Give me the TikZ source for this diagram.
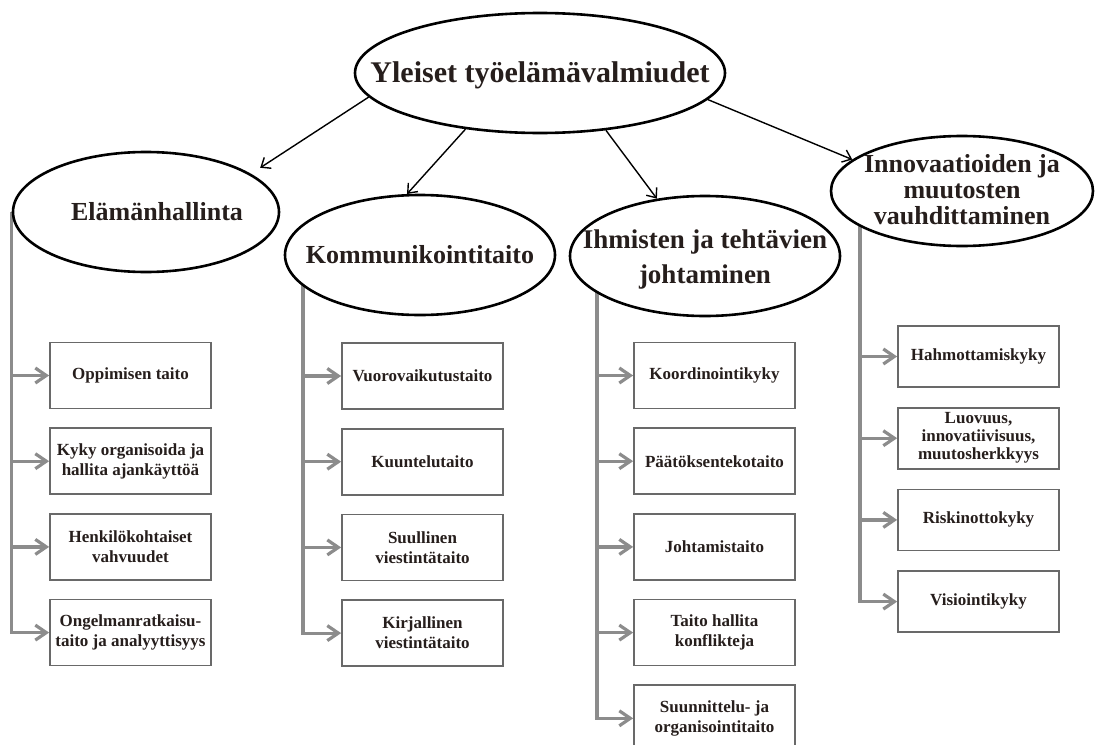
\documentclass[tikz,border=0pt]{standalone}
\usepackage{fontspec}
\setmainfont{Liberation Serif}
\usetikzlibrary{arrows.meta,shapes.geometric,positioning,backgrounds}

\definecolor{inkbrown}{RGB}{38,30,28}
\definecolor{twiggray}{RGB}{140,140,140}
\definecolor{boxgray}{RGB}{105,105,105}

\newcommand{\ovaltext}[1]{\makebox[0pt]{\smash{\raisebox{-9pt}{\begin{tabular}{@{}c@{}}#1\end{tabular}}}}}

\begin{document}
\begin{tikzpicture}[x=1pt,y=-1pt,text=inkbrown,node distance=18pt,
    oval/.style={ellipse,draw=black,line width=2.6pt,fill=white,inner sep=0pt,
                 font=\fontsize{26}{28}\selectfont\bfseries},
    skill/.style={rectangle,draw=boxgray,line width=1.7pt,fill=white,
                  minimum width=161pt,minimum height=66pt,align=center,
                  inner sep=1pt,font=\fontsize{17}{20}\selectfont\bfseries},
    link/.style={-{Straight Barb[length=8pt,width=13pt]},line width=1.4pt,black},
    twig/.style={-{Straight Barb[length=11pt,width=15pt]},twiggray,line width=3.2pt}]

  \useasboundingbox (0,0) rectangle (1097,744);

  \node[oval,minimum width=370pt,minimum height=120pt,
        font=\fontsize{30}{32}\selectfont\bfseries] (top) at (540,73)
        {\ovaltext{Yleiset työelämävalmiudet}};
  \node[oval,minimum width=266pt,minimum height=120pt] (e1) at (146,212)
        {\ovaltext{\hspace*{22pt}Elämänhallinta}};
  \node[oval,minimum width=270pt,minimum height=120pt] (e2) at (420,255)
        {\ovaltext{Kommunikointitaito}};
  \node[oval,minimum width=270pt,minimum height=120pt,
        font=\fontsize{27}{35}\selectfont\bfseries] (e3) at (705,256)
        {\ovaltext{Ihmisten ja tehtävien\\johtaminen}};
  \node[oval,minimum width=262pt,minimum height=110pt,
        font=\fontsize{26}{26}\selectfont\bfseries] (e4) at (962,191)
        {\ovaltext{Innovaatioiden ja\\muutosten\\vauhdittaminen}};

  \node[skill] (b11) at (130.5,375.5) {Oppimisen taito};
  \node[skill] (b12) [below=of b11] {Kyky organisoida ja\\hallita ajankäyttöä};
  \node[skill] (b13) [below=of b12] {Henkilökohtaiset\\vahvuudet};
  \node[skill] (b14) [below=of b13] {Ongelmanratkaisu-\\taito ja analyyttisyys};

  \node[skill] (b21) at (422.5,376) {Vuorovaikutustaito};
  \node[skill] (b22) [below=of b21] {Kuuntelutaito};
  \node[skill] (b23) [below=of b22] {Suullinen\\viestintätaito};
  \node[skill] (b24) [below=of b23] {Kirjallinen\\viestintätaito};

  \node[skill] (b31) at (714.5,375.5) {Koordinointikyky};
  \node[skill] (b32) [below=of b31] {Päätöksentekotaito};
  \node[skill] (b33) [below=of b32] {Johtamistaito};
  \node[skill] (b34) [below=of b33] {Taito hallita\\konflikteja};
  \node[skill] (b35) [below=of b34] {Suunnittelu- ja\\organisointitaito};

  \node[skill,minimum height=61pt] (b41) at (978.5,356.5) {Hahmottamiskyky};
  \node[skill,minimum height=61pt,font=\fontsize{17}{18}\selectfont\bfseries]
        (b42) [below=19pt of b41] {Luovuus,\\innovatiivisuus,\\muutosherkkyys};
  \node[skill,minimum height=61pt] (b43) [below=19pt of b42] {Riskinottokyky};
  \node[skill,minimum height=61pt] (b44) [below=19pt of b43] {Visiointikyky};

  \coordinate (k1) at (e1.west);
  \coordinate (k2) at (303,255);
  \coordinate (k3) at (597,256);
  \coordinate (k4) at (860,191);

  \path[link] (top.188) edge[shorten >=11pt] (e1.20)
              (top.217) edge (e2.102)
              (top.319) edge (e3.130)
              (top.351) edge (e4.164);

  \begin{pgfonlayer}{background}
    \draw[twig] (k1) |- (b14.west);
    \draw[twig] (k1 |- b11.west) -- (b11.west);
    \draw[twig] (k1 |- b12.west) -- (b12.west);
    \draw[twig] (k1 |- b13.west) -- (b13.west);

    \draw[twig] (k2) |- (b24.west);
    \draw[twig] (k2 |- b21.west) -- (b21.west);
    \draw[twig] (k2 |- b22.west) -- (b22.west);
    \draw[twig] (k2 |- b23.west) -- (b23.west);

    \draw[twig] (k3) |- (b35.west);
    \draw[twig] (k3 |- b31.west) -- (b31.west);
    \draw[twig] (k3 |- b32.west) -- (b32.west);
    \draw[twig] (k3 |- b33.west) -- (b33.west);
    \draw[twig] (k3 |- b34.west) -- (b34.west);

    \draw[twig] (k4) |- (b44.west);
    \draw[twig] (k4 |- b41.west) -- (b41.west);
    \draw[twig] (k4 |- b42.west) -- (b42.west);
    \draw[twig] (k4 |- b43.west) -- (b43.west);
  \end{pgfonlayer}
\end{tikzpicture}
\end{document}
